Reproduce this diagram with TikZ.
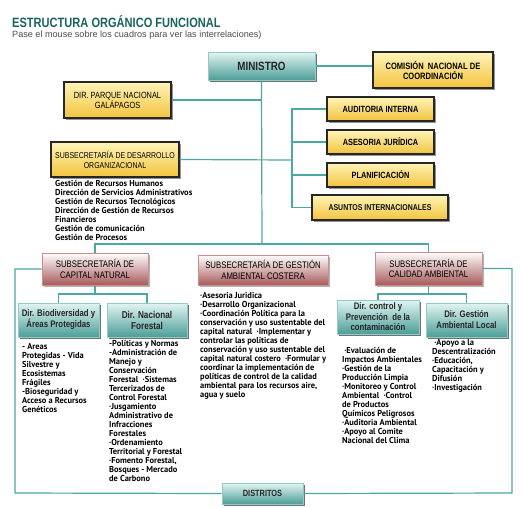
\documentclass[tikz,border=0pt]{standalone}
\usepackage{fontspec}
\setmainfont{Liberation Sans}
\newfontfamily\narrowfont[FakeStretch=0.82]{Liberation Sans}
\newfontfamily\listfont[FakeStretch=0.98]{PT Sans}
\usetikzlibrary{shadows}
\definecolor{linea}{RGB}{75,168,162}
\definecolor{titulo}{RGB}{24,100,90}
\definecolor{oroA}{RGB}{255,244,184}
\definecolor{oroB}{RGB}{242,196,62}
\definecolor{verdeA}{RGB}{226,245,243}
\definecolor{verdeB}{RGB}{76,158,152}
\definecolor{rojoB}{RGB}{168,90,90}
\definecolor{rojoC}{RGB}{201,143,143}
\begin{document}
\begin{tikzpicture}[x=1pt,y=-1pt,
    conector/.style={draw=linea,line width=1.2pt},
    cajaoro/.style={draw=black!85,line width=1.3pt,top color=oroA,bottom color=oroB,
      drop shadow={shadow xshift=1.5pt,shadow yshift=-1.5pt,fill=black!60,opacity=.7},
      align=center,inner sep=1pt,font=\narrowfont\bfseries\fontsize{9}{10}\selectfont},
    cajaverde/.style={draw=linea!60,line width=1pt,top color=verdeA,bottom color=verdeB,
      drop shadow={shadow xshift=2pt,shadow yshift=-2pt,fill=black!70,opacity=.8},
      align=center,inner sep=1pt,text=black!85,font=\narrowfont\bfseries\fontsize{10}{11}\selectfont},
    cajaroja/.style={draw=rojoC,line width=1pt,top color=white,bottom color=rojoB,
      drop shadow={shadow xshift=1.5pt,shadow yshift=-1.5pt,fill=black!50,opacity=.6},
      align=center,inner sep=1pt,font=\narrowfont\fontsize{9.5}{10.5}\selectfont},
    lista/.style={anchor=north west,inner sep=0pt,align=left,text=black,
      font=\listfont\bfseries\fontsize{8.6}{9}\selectfont}]
\useasboundingbox (0,0) rectangle (522,507);
% titulo
\node[anchor=west,inner sep=0pt,text=titulo,font=\narrowfont\bfseries\fontsize{13.5}{14}\selectfont] (titulo) at (12,22) {ESTRUCTURA ORGÁNICO FUNCIONAL};
\node[anchor=west,inner sep=0pt,text=black!70,font=\fontsize{9.1}{10}\selectfont] (subtitulo) at (12,35.5) {Pase el mouse sobre los cuadros para ver las interrelaciones)};
% nivel superior
\node[cajaverde,minimum width=107pt,minimum height=28pt,font=\narrowfont\bfseries\fontsize{12}{13}\selectfont] (ministro) at (261.5,66) {MINISTRO};
\node[cajaoro,minimum width=120pt,minimum height=36pt,font=\narrowfont\bfseries\fontsize{9.2}{10}\selectfont] (comision) at (433,70) {COMISIÓN~ NACIONAL DE\\COORDINACIÓN};
\node[cajaoro,minimum width=107pt,minimum height=36pt,font=\narrowfont\fontsize{9}{10}\selectfont] (parque) at (117.5,100) {DIR. PARQUE NACIONAL\\GALÁPAGOS};
\node[cajaoro,minimum width=128pt,minimum height=35pt,font=\narrowfont\fontsize{8.5}{10}\selectfont] (desarrollo) at (115,159.5) {SUBSECRETARÍA DE DESARROLLO\\ORGANIZACIONAL};
\node[cajaoro,minimum width=107pt,minimum height=24pt] (auditoria) at (380.5,109) {AUDITORIA INTERNA};
\node[cajaoro,minimum width=107pt,minimum height=24pt] (asesoria) at (380.5,142) {ASESORIA JURÍDICA};
\node[cajaoro,minimum width=107pt,minimum height=24pt] (planif) at (380.5,175) {PLANIFICACIÓN};
\node[cajaoro,minimum width=136pt,minimum height=25pt,text=black!80!titulo,font=\narrowfont\bfseries\fontsize{8.5}{10}\selectfont] (asuntos) at (380,207.5) {ASUNTOS INTERNACIONALES};
\node[lista] (listadesarrollo) at (55,180.5) {Gestión de Recursos Humanos\\Dirección de Servicios Administrativos\\Gestión de Recursos Tecnológicos\\Dirección de Gestión de Recursos\\Financieros\\Gestión de comunicación\\Gestión de Procesos};
% subsecretarias
\node[cajaroja,minimum width=106pt,minimum height=32pt] (capital) at (95,269) {SUBSECRETARÍA DE\\CAPITAL NATURAL};
\node[cajaroja,minimum width=130pt,minimum height=30pt] (costera) at (263,270) {SUBSECRETARÍA DE GESTIÓN\\AMBIENTAL COSTERA};
\node[cajaroja,minimum width=107pt,minimum height=33pt] (calidad) at (428.5,268.5) {SUBSECRETARÍA DE\\CALIDAD AMBIENTAL};
% direcciones
\node[cajaverde,minimum width=81pt,minimum height=34pt,font=\narrowfont\bfseries\fontsize{9.5}{11}\selectfont] (biodiv) at (58.5,320) {Dir. Biodiversidad y\\Áreas Protegidas};
\node[cajaverde,minimum width=80pt,minimum height=34pt] (forestal) at (147,320) {Dir. Nacional\\Forestal};
\node[cajaverde,minimum width=82pt,minimum height=34pt,font=\narrowfont\bfseries\fontsize{9.5}{10.5}\selectfont] (control) at (378,317) {Dir. control y\\Prevención~ de la\\contaminación};
\node[cajaverde,minimum width=81pt,minimum height=34pt,font=\narrowfont\bfseries\fontsize{9.5}{11}\selectfont] (local) at (466.5,320) {Dir. Gestión\\Ambiental Local};
\node[cajaverde,minimum width=81pt,minimum height=21pt,font=\narrowfont\bfseries\fontsize{9}{10}\selectfont] (distritos) at (262.5,493.5) {DISTRITOS};
% listas de funciones
\node[lista] (listabiodiv) at (22,343.5) {- Areas\\Protegidas - Vida\\Silvestre y\\Ecosistemas\\Frágiles\\-Bioseguridad y\\Acceso a Recursos\\Genéticos};
\node[lista] (listaforestal) at (109,340.5) {-Políticas y Normas\\-Administración de\\Manejo y\\Conservación\\Forestal ~·Sistemas\\Tercerizados de\\Control Forestal\\ ·Jusgamiento\\Administrativo de\\Infracciones\\Forestales\\ ·Ordenamiento\\Territorial y Forestal\\ ·Fomento Forestal,\\Bosques - Mercado\\de Carbono};
\node[lista] (listacostera) at (200,292.5) {·Asesoria Juridica\\ ·Desarrollo Organizacional\\ ·Coordinación Política para la\\conservación y uso sustentable del\\capital natural ~·Implementar y\\controlar las políticas de\\conservación y uso sustentable del\\capital natural costero ~·Formular y\\coordinar la implementación de\\políticas de control de la calidad\\ambiental para los recursos aire,\\agua y suelo};
\node[lista] (listacontrol) at (342,347.5) {~·Evaluación de\\Impactos Ambientales\\ ·Gestión de la\\Producción Limpia\\ ·Monitoreo y Control\\Ambiental ~·Control\\de Productos\\Químicos Peligrosos\\ ·Auditoria Ambiental\\ ·Apoyo al Comite\\Nacional del Clima};
\node[lista] (listalocal) at (432,339.5) {~·Apoyo a la\\Descentralización\\ ·Educación,\\Capacitación y\\Difusión\\ ·Investigación};
% conectores
\coordinate (eje) at (262,244);
\coordinate (ramal) at (292,160);
\coordinate (bajaizq) at (15,493);
\coordinate (bajader) at (512,493);
\coordinate (buscapital) at (95,294);
\coordinate (buscalidad) at (428.5,294);
\draw[conector] (ministro.east) -- (ministro.east -| comision.west);
\draw[conector] (ministro.south) -- (eje);
\draw[conector] (parque.east) -- (parque.east -| eje);
\draw[conector] (desarrollo.east) -- (ramal);
\draw[conector] (auditoria.west) -| (ramal) |- (asuntos.west);
\draw[conector] (asesoria.west) -- (asesoria.west -| ramal);
\draw[conector] (planif.west) -- (planif.west -| ramal);
\draw[conector] (capital.north) |- (eje) -| (calidad.north);
\draw[conector] (capital.west) -| (bajaizq) -- (distritos.west);
\draw[conector] (calidad.east) -| (bajader) -- (distritos.east);
\draw[conector] (capital.south) -- (buscapital);
\draw[conector] (biodiv.north) |- (buscapital) -| (forestal.north);
\draw[conector] (calidad.south) -- (buscalidad);
\draw[conector] (control.north) |- (buscalidad) -| (local.north);
\end{tikzpicture}
\end{document}
